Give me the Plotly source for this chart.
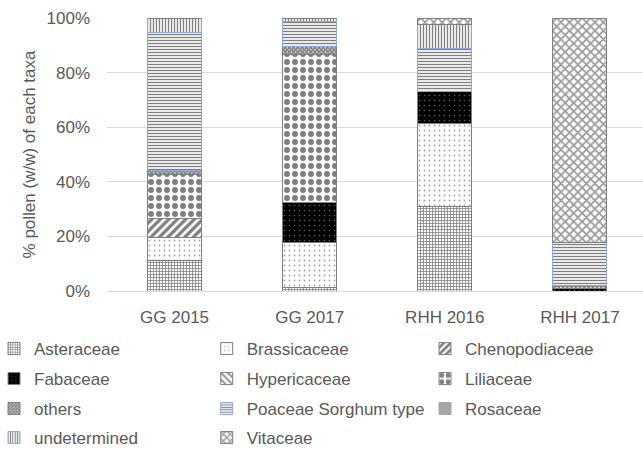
import plotly.graph_objects as go

# ---- data (percent of pollen weight) ----
categories = ["GG 2015", "GG 2017", "RHH 2016", "RHH 2017"]
asteraceae = [11.0, 1.3, 31.1, 0.0]
brassicaceae = [8.7, 16.6, 30.1, 0.0]
chenopodiaceae = [7.0, 0.0, 0.0, 0.0]
fabaceae = [0.0, 14.5, 11.9, 1.0]
hypericaceae = [0.0, 0.0, 0.0, 0.0]
liliaceae = [15.9, 54.1, 0.0, 0.0]
others = [1.6, 3.0, 0.0, 1.0]
poaceae_sorghum = [50.4, 9.2, 15.6, 15.6]
rosaceae = [0.0, 0.0, 0.0, 0.0]
undetermined = [5.4, 1.3, 8.9, 0.0]
vitaceae = [0.0, 0.0, 2.4, 82.4]
y_ticks = [0, 20, 40, 60, 80, 100]
y_tick_labels = ["0%", "20%", "40%", "60%", "80%", "100%"]

FONT = "Liberation Sans"
GRAY = "#595959"
EDGE = "#7f7f7f"
BLUE = "#8faadc"

series = [
    ("Asteraceae", asteraceae, "white",
     dict(shape="+", size=3, solidity=0.45, fgcolor="#000000", bgcolor="white"), EDGE),
    ("Brassicaceae", brassicaceae, "white",
     dict(shape=".", size=5, solidity=0.1, fgcolor="#444444", bgcolor="white"), EDGE),
    ("Chenopodiaceae", chenopodiaceae, "white",
     dict(shape="/", size=6, solidity=0.55, fgcolor="#000000", bgcolor="white"), EDGE),
    ("Fabaceae", fabaceae, "black",
     dict(shape=".", size=5, solidity=0.08, fgcolor="#bbbbbb", bgcolor="black"), EDGE),
    ("Hypericaceae", hypericaceae, "white",
     dict(shape="\\", size=6, solidity=0.4, fgcolor="#222222", bgcolor="white"), EDGE),
    ("Liliaceae", liliaceae, "white",
     dict(shape=".", size=8, solidity=0.45, fgcolor="#000000", bgcolor="white"), EDGE),
    ("others", others, "white",
     dict(shape="x", size=3, solidity=0.8, fgcolor="#000000", bgcolor="white"), EDGE),
    ("Poaceae Sorghum type", poaceae_sorghum, "white",
     dict(shape="-", size=3, solidity=0.45, fgcolor="#000000", bgcolor="white"), BLUE),
    ("Rosaceae", rosaceae, "#a6a6a6", None, "#a6a6a6"),
    ("undetermined", undetermined, "white",
     dict(shape="|", size=3, solidity=0.45, fgcolor="#000000", bgcolor="white"), BLUE),
    ("Vitaceae", vitaceae, "white",
     dict(shape="x", size=6, solidity=0.5, fgcolor="#333333", bgcolor="white"), EDGE),
]

W, H = 643, 449
ML, MR, MT, MB = 107, 0, 18, 158
plot_w = W - ML - MR
plot_h = H - MT - MB


def px_to_paper_x(px):
    return (px - ML) / plot_w


def px_to_paper_y(py):
    return (H - MB - py) / plot_h


row_centers = [349, 379, 409, 438]
col_starts = [-6, 206.7, 425]

fig = go.Figure()
legends = {}
for i, (name, vals, color, pat, edge) in enumerate(series):
    legend_id = "legend" if i == 0 else f"legend{i + 1}"
    marker = dict(color=color, line=dict(color=edge, width=1))
    if pat is not None:
        marker["pattern"] = pat
    fig.add_trace(go.Bar(
        x=categories, y=vals, name=name, marker=marker,
        width=0.4, legend=legend_id, hoverinfo="x+y+name",
    ))
    legends[legend_id] = dict(
        orientation="v", xanchor="left", yanchor="middle",
        x=px_to_paper_x(col_starts[i % 3]),
        y=px_to_paper_y(row_centers[i // 3]),
        font=dict(family=FONT, size=17, color=GRAY),
        bgcolor="rgba(0,0,0,0)", borderwidth=0,
    )

fig.update_layout(
    width=W, height=H,
    margin=dict(l=ML, r=MR, t=MT, b=MB, autoexpand=False),
    barmode="stack",
    paper_bgcolor="white", plot_bgcolor="white",
    font=dict(family=FONT, size=17, color=GRAY),
    showlegend=True,
    **legends,
)
fig.update_xaxes(
    range=[-0.5, 3.467], showgrid=False, zeroline=False, showline=False,
    ticks="", tickfont=dict(family=FONT, size=17, color=GRAY),
    ticklabelstandoff=14,
)
fig.update_yaxes(
    range=[0, 100], tickmode="array", tickvals=y_ticks, ticktext=y_tick_labels,
    showgrid=True, gridcolor="#d9d9d9", gridwidth=1,
    zeroline=True, zerolinecolor="#d9d9d9", zerolinewidth=1,
    showline=False, ticks="",
    tickfont=dict(family=FONT, size=17, color=GRAY),
    ticklabelstandoff=16,
    title=dict(text="% pollen (w/w) of each taxa",
               font=dict(family=FONT, size=17, color=GRAY), standoff=6),
)

fig.write_html(
    "out.html",
    config={"displayModeBar": False},
    post_script="document.body.style.margin='0px';",
)
